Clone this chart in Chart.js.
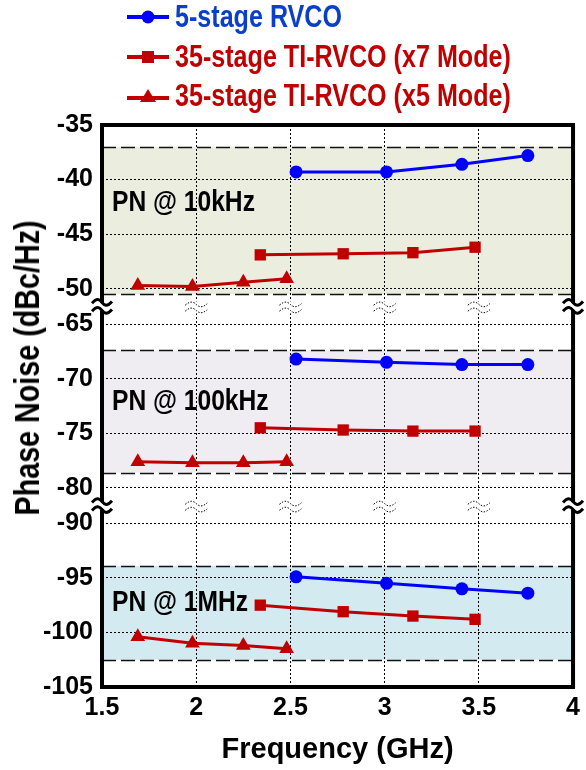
<!DOCTYPE html>
<html>
<head>
<meta charset="utf-8">
<script src="https://cdn.jsdelivr.net/npm/chart.js@4.4.1/dist/chart.umd.min.js"></script>
<style>
    html, body { margin: 0; padding: 0; background: #fff; }
    #wrap { position: relative; width: 586px; height: 770px; }
    #wrap canvas { position: absolute; left: 0; top: 0; }
    .leg { position: absolute; left: 127px; height: 36px; white-space: nowrap;
           font: bold 31px 'Liberation Sans', Arial, sans-serif; }
    .leg svg { position: absolute; left: 0; top: 8px; }
    .leg span { position: absolute; left: 48px; top: 0; line-height: 36px;
                transform: scaleX(0.81); transform-origin: 0 50%; }
    #ytitle { position: absolute; left: 27px; top: 368px; white-space: nowrap;
              transform: translate(-50%, -50%) rotate(-90deg) scaleX(0.82);
              font: bold 35px 'Liberation Sans', Arial, sans-serif; color: #000; }
</style>
</head>
<body>
<div id="wrap">
    <canvas id="pnChart" width="586" height="770"></canvas>
    <div class="leg" style="top:-1px">
        <svg width="42" height="20"><line x1="0" y1="10" x2="42" y2="10" stroke="#0000ff" stroke-width="4"/><circle cx="21" cy="10" r="6.5" fill="#0000ff"/></svg>
        <span style="color:#0a3fcc">5-stage RVCO</span>
    </div>
    <div class="leg" style="top:39px">
        <svg width="42" height="20"><line x1="0" y1="10" x2="42" y2="10" stroke="#c00000" stroke-width="4"/><rect x="15" y="4" width="12" height="12" fill="#c00000"/></svg>
        <span style="color:#c00000">35-stage TI-RVCO (x7 Mode)</span>
    </div>
    <div class="leg" style="top:78px">
        <svg width="42" height="20"><line x1="0" y1="12" x2="42" y2="12" stroke="#c00000" stroke-width="4"/><polygon points="21,3 29,16 13,16" fill="#c00000"/></svg>
        <span style="color:#c00000">35-stage TI-RVCO (x5 Mode)</span>
    </div>
    <div id="ytitle">Phase Noise (dBc/Hz)</div>
</div>
<script>
// Datos (GHz, dBc/Hz)
var rvcoFreq = [2.53, 3.01, 3.41, 3.76];
var rvcoPN10k = [-39.3, -39.3, -38.6, -37.8];
var rvcoPN100k = [-68.2, -68.5, -68.7, -68.7];
var rvcoPN1M = [-94.9, -95.5, -96.0, -96.4];

var x7Freq = [2.34, 2.78, 3.15, 3.48];
var x7PN10k = [-46.9, -46.8, -46.7, -46.2];
var x7PN100k = [-74.5, -74.7, -74.8, -74.8];
var x7PN1M = [-97.5, -98.1, -98.5, -98.8];

var x5Freq = [1.69, 1.98, 2.25, 2.48];
var x5PN10k = [-49.7, -49.8, -49.4, -49.1];
var x5PN100k = [-77.6, -77.7, -77.7, -77.6];
var x5PN1M = [-100.4, -101.0, -101.2, -101.5];

var xTicks = [1.5, 2, 2.5, 3, 3.5, 4];
var yTicks = [-35, -40, -45, -50, -65, -70, -75, -80, -90, -95, -100, -105];
var bandRanges = [[-37, -50.5], [-67.4, -78.6], [-93.9, -102.5]];
var bandColors = ['#ebeedf', '#efedf2', '#d3eaf0'];
var panelLabels = ['PN @ 10kHz', 'PN @ 100kHz', 'PN @ 1MHz'];
var panelLabelY = [-42.1, -72.1, -97.3];

// Eje Y partido: -35..-50 | -65..-80 | -90..-105
var GAP = 3.25;
function toAxis(v) {
    if (v > -58) return v;
    if (v > -85) return v + 15 - GAP;
    return v + 25 - 2 * GAP;
}
var breaks = [-50 - GAP / 2, -65 - GAP - GAP / 2];

var FONT = "'Liberation Sans', Arial, sans-serif";
var BLUE = '#0000ff';
var RED = '#c00000';

function serie(freqs, values, color, style, radius) {
    return {
        data: freqs.map(function(f, i) { return { x: f, y: toAxis(values[i]) }; }),
        borderColor: color,
        backgroundColor: color,
        borderWidth: 3,
        pointStyle: style,
        pointRadius: radius,
        pointHoverRadius: radius,
        pointBorderWidth: 0,
        tension: 0
    };
}

function tilde(ctx, x, y, w, amp) {
    ctx.beginPath();
    ctx.moveTo(x - w / 2, y + amp * 0.3);
    ctx.bezierCurveTo(x - w / 4, y - amp * 1.6, x - w / 8, y - amp, x, y);
    ctx.bezierCurveTo(x + w / 8, y + amp, x + w / 4, y + amp * 1.6, x + w / 2, y - amp * 0.3);
    ctx.stroke();
}

var panelsPlugin = {
    id: 'panels',
    beforeDraw: function(chart) {
        var ctx = chart.ctx, a = chart.chartArea, ys = chart.scales.y;
        ctx.save();
        bandRanges.forEach(function(r, i) {
            var t = ys.getPixelForValue(toAxis(r[0]));
            var b = ys.getPixelForValue(toAxis(r[1]));
            ctx.fillStyle = bandColors[i];
            ctx.fillRect(a.left, t, a.right - a.left, b - t);
        });
        ctx.restore();
    },
    beforeDatasetsDraw: function(chart) {
        var ctx = chart.ctx, a = chart.chartArea, ys = chart.scales.y, xs = chart.scales.x;
        ctx.save();
        // bordes de las bandas
        ctx.strokeStyle = '#111';
        ctx.lineWidth = 1.6;
        ctx.setLineDash([14, 5]);
        bandRanges.forEach(function(r) {
            r.forEach(function(v) {
                var y = Math.round(ys.getPixelForValue(toAxis(v))) + 0.5;
                ctx.beginPath();
                ctx.moveTo(a.left, y);
                ctx.lineTo(a.right, y);
                ctx.stroke();
            });
        });
        // marcas de corte en la rejilla
        ctx.lineWidth = 1;
        ctx.setLineDash([1.5, 1.5]);
        breaks.forEach(function(bv) {
            var y = ys.getPixelForValue(bv) + 1;
            xTicks.slice(1, -1).forEach(function(xv) {
                var x = xs.getPixelForValue(xv);
                ctx.fillStyle = '#fff';
                ctx.fillRect(x - 11, y - 6, 22, 12);
                ctx.strokeStyle = '#000';
                tilde(ctx, x, y - 3, 22, 2.5);
                tilde(ctx, x, y + 3, 22, 2.5);
            });
        });
        ctx.setLineDash([]);
        // etiquetas de panel (texto estrecho)
        ctx.fillStyle = '#000';
        ctx.font = 'bold 30px ' + FONT;
        ctx.textBaseline = 'middle';
        ctx.textAlign = 'left';
        panelLabels.forEach(function(t, i) {
            ctx.save();
            ctx.translate(a.left + 10, ys.getPixelForValue(toAxis(panelLabelY[i])));
            ctx.scale(0.82, 1);
            ctx.fillText(t, 0, 0);
            ctx.restore();
        });
        ctx.restore();
    },
    afterDraw: function(chart) {
        var ctx = chart.ctx, a = chart.chartArea, ys = chart.scales.y;
        ctx.save();
        ctx.strokeStyle = '#000';
        ctx.lineWidth = 4;
        ctx.strokeRect(a.left, a.top, a.right - a.left, a.bottom - a.top);
        breaks.forEach(function(bv) {
            var y = ys.getPixelForValue(bv);
            [a.left, a.right].forEach(function(x) {
                ctx.fillStyle = '#fff';
                ctx.fillRect(x - 3, y - 4, 6, 8);
                ctx.lineWidth = 3;
                tilde(ctx, x, y - 4, 20, 3);
                tilde(ctx, x, y + 4, 20, 3);
            });
        });
        ctx.restore();
    }
};

var datasets = [
    serie(rvcoFreq, rvcoPN10k, BLUE, 'circle', 6.5),
    serie(rvcoFreq, rvcoPN100k, BLUE, 'circle', 6.5),
    serie(rvcoFreq, rvcoPN1M, BLUE, 'circle', 6.5),
    serie(x7Freq, x7PN10k, RED, 'rect', 8),
    serie(x7Freq, x7PN100k, RED, 'rect', 8),
    serie(x7Freq, x7PN1M, RED, 'rect', 8),
    serie(x5Freq, x5PN10k, RED, 'triangle', 8.5),
    serie(x5Freq, x5PN100k, RED, 'triangle', 8.5),
    serie(x5Freq, x5PN1M, RED, 'triangle', 8.5)
];

new Chart(document.getElementById('pnChart'), {
    type: 'line',
    data: { datasets: datasets },
    options: {
        responsive: false,
        animation: false,
        layout: { padding: { top: 125, right: 11, left: 0, bottom: 0 } },
        plugins: { legend: { display: false }, tooltip: { enabled: false } },
        scales: {
            x: {
                type: 'linear',
                min: 1.5,
                max: 4,
                afterBuildTicks: function(scale) {
                    scale.ticks = xTicks.map(function(v) { return { value: v }; });
                },
                afterFit: function(scale) { scale.height = 83; },
                grid: { color: '#000', lineWidth: 1, drawTicks: false },
                border: { display: false, dash: [2, 2] },
                ticks: {
                    color: '#000',
                    padding: 6,
                    maxRotation: 0,
                    font: { family: FONT, size: 25, weight: 'bold' },
                    callback: function(v) { return String(v); }
                },
                title: {
                    display: true,
                    text: 'Frequency (GHz)',
                    color: '#000',
                    padding: { top: 0, bottom: 3 },
                    font: { family: FONT, size: 29, weight: 'bold' }
                }
            },
            y: {
                type: 'linear',
                min: toAxis(-105),
                max: -35,
                afterBuildTicks: function(scale) {
                    scale.ticks = yTicks.map(function(v) { return { value: toAxis(v) }; });
                },
                afterFit: function(scale) { scale.width = 102; },
                grid: { color: '#000', lineWidth: 1, drawTicks: false },
                border: { display: false, dash: [2, 2] },
                ticks: {
                    color: '#000',
                    padding: 9,
                    font: { family: FONT, size: 25, weight: 'bold' },
                    callback: function(v) {
                        var real = yTicks.filter(function(t) { return Math.abs(toAxis(t) - v) < 1e-6; });
                        return real.length ? String(real[0]) : '';
                    }
                }
            }
        }
    },
    plugins: [panelsPlugin]
});
</script>
</body>
</html>
